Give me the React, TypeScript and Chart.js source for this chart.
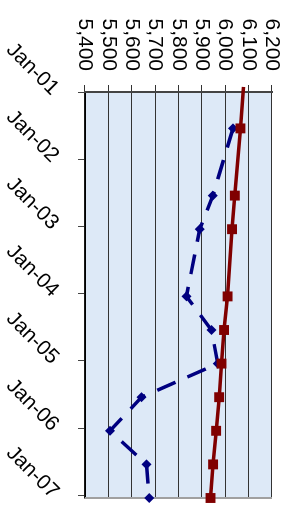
import React, { useEffect, useRef } from "react";
import { Chart, registerables } from "chart.js";

Chart.register(...registerables);

// Category axis: months since Jan-01
const tickMonths = [0, 12, 24, 36, 48, 60, 72];
const tickLabels = ["Jan-01", "Jan-02", "Jan-03", "Jan-04", "Jan-05", "Jan-06", "Jan-07"];

// Series positions (months since Jan-01)
const pointMonths = [6.5, 18.5, 24.5, 36.5, 42.5, 48.5, 54.5, 60.5, 66.5, 72.5];
const redMonths = [-0.9, 6.5, 18.5, 24.5, 36.5, 42.5, 48.5, 54.5, 60.5, 66.5, 72.5];

const redValues = [6078, 6065, 6041, 6029, 6010, 5995, 5984, 5974, 5961, 5948, 5937];
const blueValues = [6033, 5947, 5891, 5834, 5941, 5968, 5642, 5507, 5663, 5675];

const valueMin = 5400;
const valueMax = 6200;
const valueStep = 100;

const FONT = { family: "'Liberation Sans', Arial, sans-serif", size: 21 };

export default function App() {
  const ref = useRef<HTMLCanvasElement | null>(null);

  useEffect(() => {
    if (!ref.current) return;
    const bgPlugin = {
      id: "bg",
      beforeDraw(chart: any) {
        const { ctx, chartArea: a, width, height } = chart;
        ctx.save();
        ctx.fillStyle = "#ffffff";
        ctx.fillRect(0, 0, width, height);
        ctx.fillStyle = "#dde9f7";
        ctx.fillRect(a.left, a.top, a.right - a.left, a.bottom - a.top);
        ctx.restore();
      },
      beforeDatasetsDraw(chart: any) {
        const { ctx, chartArea: a } = chart;
        ctx.save();
        ctx.strokeStyle = "#a0a0a0";
        ctx.lineWidth = 2;
        ctx.beginPath();
        ctx.moveTo(a.right, a.top);
        ctx.lineTo(a.right, a.bottom);
        ctx.stroke();
        ctx.restore();
      },
    };

    const chart = new Chart(ref.current, {
      type: "line",
      data: {
        datasets: [
          {
            label: "red",
            data: redMonths.map((m, i) => ({ x: m, y: redValues[i] })),
            borderColor: "#800000",
            backgroundColor: "#800000",
            borderWidth: 3.5,
            pointStyle: "rect",
            pointRadius: redMonths.map((_, i) => (i === 0 ? 0 : 7)),
            pointBorderWidth: 0,
            tension: 0,
            clip: false as any,
          },
          {
            label: "blue",
            data: pointMonths.map((m, i) => ({ x: m, y: blueValues[i] })),
            borderColor: "#000080",
            backgroundColor: "#000080",
            borderWidth: 3.5,
            borderDash: [20, 13],
            pointStyle: "rectRot",
            pointRadius: 5,
            pointBorderWidth: 0,
            tension: 0,
            clip: false as any,
          },
        ],
      },
      options: {
        animation: false,
        responsive: false,
        devicePixelRatio: 1,
        layout: { padding: { top: 16, right: 6, bottom: 0, left: 0 } },
        plugins: { legend: { display: false }, tooltip: { enabled: false } },
        scales: {
          x: {
            type: "linear",
            min: 0,
            max: 72.5,
            afterBuildTicks: (s: any) => {
              s.ticks = tickMonths.map((v) => ({ value: v }));
            },
            afterFit: (s: any) => {
              s.height = 85;
              s.paddingLeft = 0;
              s.paddingRight = 0;
            },
            ticks: {
              autoSkip: false,
              minRotation: 45,
              maxRotation: 45,
              padding: 14,
              color: "#000",
              font: FONT,
              callback: (v: any) => tickLabels[tickMonths.indexOf(Number(v))] ?? "",
            },
            grid: { drawOnChartArea: false, drawTicks: true, tickLength: 7, color: "#444" },
            border: { display: true, color: "#000", width: 1.5 },
          },
          y: {
            type: "linear",
            min: valueMin,
            max: valueMax,
            afterFit: (s: any) => {
              s.width = 92;
              s.paddingTop = 0;
              s.paddingBottom = 0;
            },
            ticks: {
              stepSize: valueStep,
              autoSkip: false,
              padding: 14,
              color: "#000",
              font: FONT,
              callback: (v: any) => Number(v).toLocaleString("en-US"),
            },
            grid: { color: "#333", lineWidth: 1, tickLength: 7 },
            border: { display: true, color: "#444", width: 2 },
          },
        },
      },
      plugins: [bgPlugin],
    } as any);
    return () => chart.destroy();
  }, []);

  return (
    <div style={{ position: "absolute", left: 0, top: 0, width: 288, height: 505, overflow: "hidden", background: "#fff" }}>
      <canvas
        ref={ref}
        width={505}
        height={288}
        style={{
          position: "absolute",
          left: 0,
          top: 0,
          width: 505,
          height: 288,
          transformOrigin: "0 0",
          transform: "translate(288px, 0) rotate(90deg)",
        }}
      />
    </div>
  );
}
